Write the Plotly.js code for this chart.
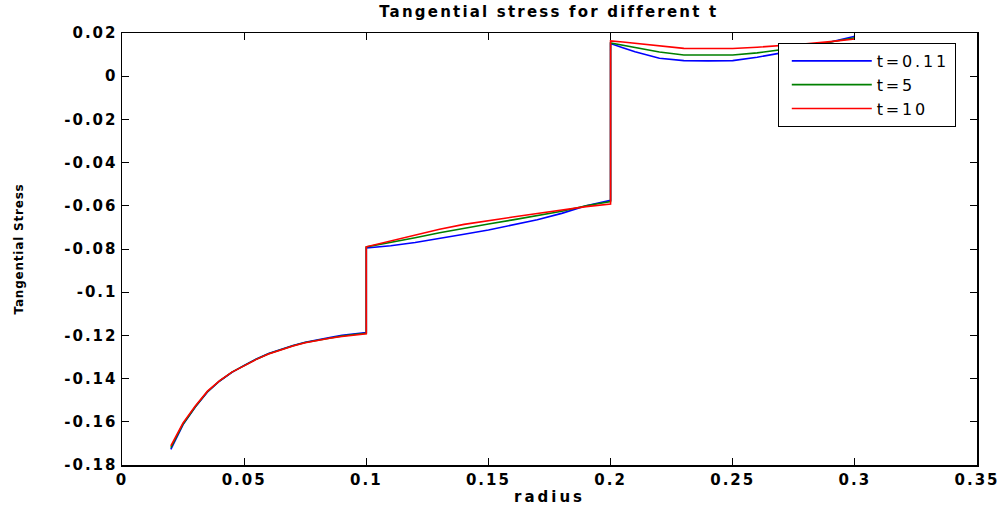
<!DOCTYPE html>
<html>
<head>
<meta charset="utf-8">
<script src="https://cdn.plot.ly/plotly-3.0.1.min.js"></script>
<style>
html,body{margin:0;padding:0;background:#fff;}
#chart{width:1005px;height:508px;}
.xtick text, .ytick text { letter-spacing: 2px; }
.gtitle { letter-spacing: 2.2px; }
.xtitle { letter-spacing: 3px; }
.ytitle { letter-spacing: 0.8px; }
.legendtext { letter-spacing: 2.8px; }
</style>
</head>
<body>
<div id="chart"></div>
<script>
// radius samples for the three material layers
var radius1 = [0.02, 0.025, 0.03, 0.035, 0.04, 0.045, 0.05, 0.055, 0.06, 0.065, 0.07, 0.075, 0.08, 0.085, 0.09, 0.095, 0.1];
var radius2 = [0.1, 0.11, 0.12, 0.13, 0.14, 0.15, 0.16, 0.17, 0.18, 0.19, 0.2];
var radius3 = [0.2, 0.205, 0.21, 0.22, 0.23, 0.24, 0.25, 0.26, 0.27, 0.28, 0.29, 0.3];

// t = 0.11
var blue1 = [-0.1728, -0.1613, -0.1532, -0.1462, -0.1411, -0.1371, -0.1339, -0.1309, -0.1284, -0.1264, -0.1247, -0.1232, -0.1220, -0.1210, -0.1200, -0.1193, -0.1187];
var blue2 = [-0.0795, -0.0785, -0.0770, -0.0752, -0.0732, -0.0712, -0.0690, -0.0665, -0.0635, -0.0600, -0.0575];
var blue3 = [0.0151, 0.0132, 0.0113, 0.0083, 0.0072, 0.0071, 0.0072, 0.0088, 0.0108, 0.0132, 0.0158, 0.0185];
// t = 5
var green1 = [-0.1720, -0.1610, -0.1530, -0.1460, -0.1410, -0.1370, -0.1340, -0.1310, -0.1285, -0.1265, -0.1248, -0.1233, -0.1222, -0.1212, -0.1203, -0.1196, -0.1190];
var green2 = [-0.0790, -0.0770, -0.0748, -0.0725, -0.0703, -0.0684, -0.0665, -0.0645, -0.0625, -0.0600, -0.0580];
var green3 = [0.0154, 0.0143, 0.0132, 0.0112, 0.0098, 0.0097, 0.0098, 0.0108, 0.0122, 0.0138, 0.0158, 0.0178];
// t = 10
var red1 = [-0.1712, -0.1605, -0.1527, -0.1458, -0.1409, -0.1370, -0.1341, -0.1311, -0.1286, -0.1266, -0.1249, -0.1234, -0.1223, -0.1213, -0.1205, -0.1198, -0.1193];
var red2 = [-0.0790, -0.0762, -0.0734, -0.0709, -0.0686, -0.0668, -0.0652, -0.0636, -0.0620, -0.0604, -0.0592];
var red3 = [0.0163, 0.0158, 0.0152, 0.0140, 0.0129, 0.0128, 0.0128, 0.0134, 0.0141, 0.0150, 0.0160, 0.0172];

var seriesNames = ['t=0.11', 't=5', 't=10'];
var seriesColors = ['#0000ff', '#008000', '#ff0000'];

var xTickVals = [0, 0.05, 0.1, 0.15, 0.2, 0.25, 0.3, 0.35];
var xTickText = ['0', '0.05', '0.1', '0.15', '0.2', '0.25', '0.3', '0.35'];
var yTickVals = [-0.18, -0.16, -0.14, -0.12, -0.1, -0.08, -0.06, -0.04, -0.02, 0, 0.02];
var yTickText = ['-0.18', '-0.16', '-0.14', '-0.12', '-0.1', '-0.08', '-0.06', '-0.04', '-0.02', '0', '0.02'];

var allX = radius1.concat(radius2, radius3);
var ySets = [blue1.concat(blue2, blue3), green1.concat(green2, green3), red1.concat(red2, red3)];

var traces = ySets.map(function (ys, i) {
  return {
    x: allX, y: ys, type: 'scatter', mode: 'lines', name: seriesNames[i],
    line: {color: seriesColors[i], width: 1.6}
  };
});

var tickFont = {family: 'DejaVu Sans', size: 15, color: '#000', weight: 'bold'};

var layout = {
  width: 1005, height: 508,
  margin: {l: 122, r: 28, t: 33, b: 43, pad: 0},
  paper_bgcolor: '#fff', plot_bgcolor: '#fff',
  showlegend: true,
  title: {text: 'Tangential stress for different t', font: {family: 'DejaVu Sans', size: 15, color: '#000', weight: 'bold'}, x: 0.546, xanchor: 'center', y: 0.976, yanchor: 'middle'},
  xaxis: {
    range: [0, 0.35], tickmode: 'array', tickvals: xTickVals, ticktext: xTickText,
    ticks: 'inside', ticklen: 7, tickwidth: 1, tickcolor: '#000',
    showline: true, linecolor: '#000', linewidth: 1.5, mirror: 'allticks',
    showgrid: false, zeroline: false, tickfont: tickFont,
    title: {text: 'radius', font: {family: 'DejaVu Sans', size: 15, color: '#000', weight: 'bold'}, standoff: 4}
  },
  yaxis: {
    range: [-0.18, 0.02], tickmode: 'array', tickvals: yTickVals, ticktext: yTickText,
    ticks: 'inside', ticklen: 7, tickwidth: 1, tickcolor: '#000',
    showline: true, linecolor: '#000', linewidth: 1.5, mirror: 'allticks',
    showgrid: false, zeroline: false, tickfont: tickFont,
    title: {text: 'Tangential Stress', font: {family: 'DejaVu Sans', size: 12, color: '#000', weight: 'bold'}, standoff: 38}
  },
  legend: {
    x: 0.767, y: 0.977, xanchor: 'left', yanchor: 'top',
    bgcolor: '#fff', bordercolor: '#000', borderwidth: 1,
    font: {family: 'DejaVu Sans', size: 16, color: '#000'},
    itemwidth: 80, indentation: 8, tracegroupgap: 0
  }
};

Plotly.newPlot('chart', traces, layout, {displayModeBar: false, staticPlot: true});
</script>
</body>
</html>
